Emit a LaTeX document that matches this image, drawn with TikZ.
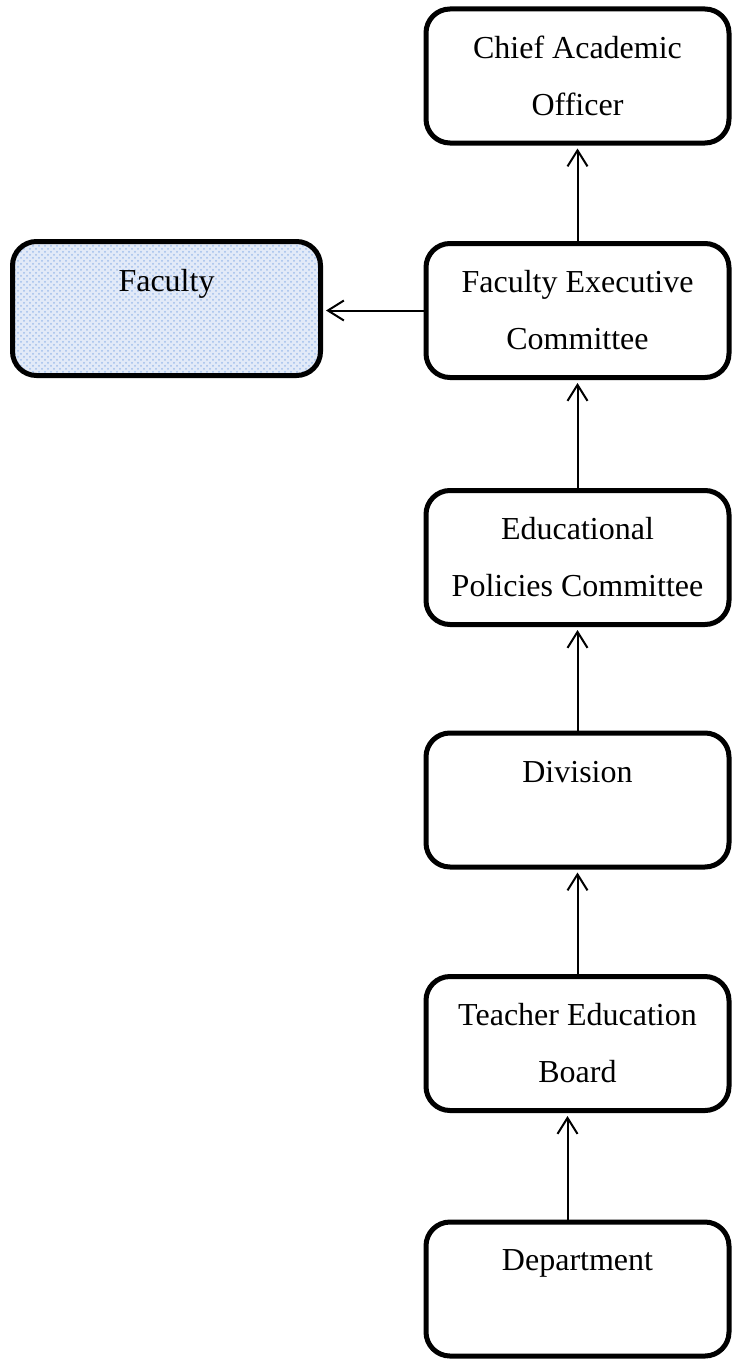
\documentclass[tikz,border=0pt]{standalone}
\usepackage{fontspec}
\setmainfont{Liberation Serif}
\usetikzlibrary{arrows.meta,patterns}

\definecolor{facblue}{RGB}{226,234,248}
\definecolor{facdots}{RGB}{160,190,235}

\begin{document}
\begin{tikzpicture}[x=0.5pt,y=-0.5pt,>={Straight Barb[length=8pt,width=10pt]},
  box/.style={draw, line width=2.5pt, rounded corners=12pt, minimum width=151.5pt,
    minimum height=67pt, inner sep=0pt, align=center,
    font=\fontsize{16}{28.5}\selectfont},
  link/.style={->, line width=1pt, shorten >=1.5pt}]
  \useasboundingbox (0,0) rectangle (732,1359);

  % Boxes
  \node[box] (cao) at (577.5,76) {Chief Academic\\Officer};
  \node[box] (fec) at (577.5,310.5) {Faculty Executive\\Committee};
  \node[box, minimum width=154pt, preaction={fill=facblue},
    pattern=crosshatch dots, pattern color=facdots] (fac) at (166.5,308.5) {Faculty\\\mbox{}};
  \node[box] (epc) at (577.5,557.5) {Educational\\Policies Committee};
  \node[box] (div) at (577.5,800) {Division\\\mbox{}};
  \node[box] (teb) at (577.5,1043.5) {Teacher Education\\Board};
  \node[box] (dep) at (577.5,1289) {Department\\\mbox{}};

  % Arrows
  \draw[link] (fec.north) -- (cao.south);
  \draw[link] (fec.west) -- (fec.west -| fac.east);
  \draw[link] (epc.north) -- (fec.south);
  \draw[link] (div.north) -- (epc.south);
  \draw[link] (teb.north) -- (div.south);
  \draw[link] ([xshift=-5pt]dep.north) -- ([xshift=-5pt]teb.south);
\end{tikzpicture}
\end{document}
